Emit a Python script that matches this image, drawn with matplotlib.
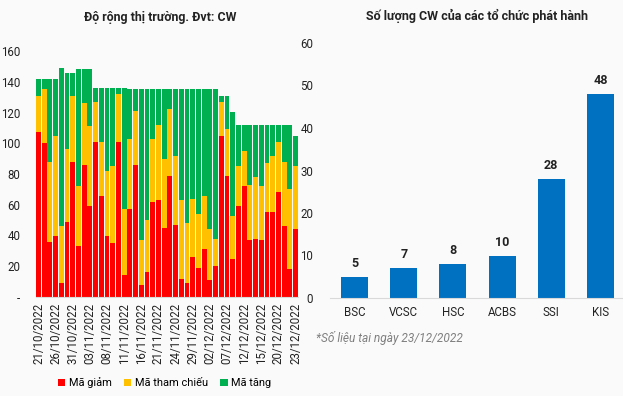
import matplotlib.pyplot as plt
import numpy as np

plt.rcParams['font.family'] = ['Roboto', 'DejaVu Sans']

# ---------- data ------------------------------------------------------------

dates = [
    "21/10/2022", "24/10/2022", "25/10/2022", "26/10/2022", "27/10/2022",
    "28/10/2022", "31/10/2022", "01/11/2022", "02/11/2022", "03/11/2022",
    "04/11/2022", "07/11/2022", "08/11/2022", "09/11/2022", "10/11/2022",
    "11/11/2022", "14/11/2022", "15/11/2022", "16/11/2022", "17/11/2022",
    "18/11/2022", "21/11/2022", "22/11/2022", "23/11/2022", "24/11/2022",
    "25/11/2022", "28/11/2022", "29/11/2022", "30/11/2022", "01/12/2022",
    "02/12/2022", "05/12/2022", "06/12/2022", "07/12/2022", "08/12/2022",
    "09/12/2022", "12/12/2022", "13/12/2022", "14/12/2022", "15/12/2022",
    "16/12/2022", "19/12/2022", "20/12/2022", "21/12/2022", "22/12/2022",
    "23/12/2022",
]

ma_giam = [107, 100, 36, 40, 9, 49, 88, 33, 86, 59, 101, 66, 40, 35, 101, 14,
           57, 86, 8, 16, 62, 63, 45, 79, 47, 12, 9, 26, 19, 31, 11, 20,
           105, 79, 25, 59, 72, 37, 38, 37, 55, 55, 68, 46, 18, 44]
ma_tham_chieu = [24, 35, 52, 65, 37, 47, 43, 39, 40, 52, 26, 35, 42, 50, 31, 43,
                 46, 35, 29, 34, 41, 49, 45, 43, 45, 51, 39, 38, 35, 35, 33, 18,
                 22, 30, 28, 26, 23, 36, 40, 35, 32, 37, 33, 42, 52, 41]
ma_tang = [11, 7, 54, 37, 103, 50, 15, 76, 22, 37, 9, 35, 54, 51, 4, 79,
           32, 14, 98, 85, 32, 23, 45, 13, 43, 72, 87, 71, 81, 69, 91, 97,
           4, 22, 67, 27, 17, 39, 34, 40, 25, 20, 11, 24, 42, 20]

issuers = ["BSC", "VCSC", "HSC", "ACBS", "SSI", "KIS"]
cw_counts = [5, 7, 8, 10, 28, 48]

RED, YELLOW, GREEN, BLUE = '#FF0000', '#FFC000', '#00B050', '#0070C0'
BG = '#FAFAFA'
TXT = '#222222'

# ---------- figure ----------------------------------------------------------

fig = plt.figure(figsize=(6.23, 3.96), dpi=100, facecolor=BG)

# left: market breadth
ax1 = fig.add_axes([35.6 / 623, 1 - 297 / 396, (298.4 - 35.6) / 623, (297 - 51) / 396])
ax1.set_facecolor(BG)
x = np.arange(len(dates))
red = np.array(ma_giam)
yel = np.array(ma_tham_chieu)
ax1.bar(x, ma_giam, width=0.85, color=RED, label="Mã giảm")
ax1.bar(x, ma_tham_chieu, width=0.85, bottom=red, color=YELLOW, label="Mã tham chiếu")
ax1.bar(x, ma_tang, width=0.85, bottom=red + yel, color=GREEN, label="Mã tăng")
ax1.set_xlim(-0.5, len(dates) - 0.5)
ax1.set_ylim(0, 160)
ax1.set_yticks(range(0, 161, 20))
ax1.set_yticklabels(["-"] + [str(v) for v in range(20, 161, 20)])
ax1.set_xticks(x[::3])
ax1.set_xticklabels(dates[::3], rotation=90)
ax1.tick_params(length=0, labelsize=8.3, colors=TXT)
ax1.tick_params(axis='y', pad=11)
ax1.tick_params(axis='x', pad=4)
for side in ['top', 'right', 'left']:
    ax1.spines[side].set_visible(False)
ax1.spines['bottom'].set_color('#D9D9D9')
fig.text(160 / 623, 1 - 18 / 396, "Độ rộng thị trường. Đvt: CW",
         ha='center', va='center', fontsize=8.9, fontweight='bold', color=TXT)
ax1.legend(loc='center', bbox_to_anchor=(0.49, (297 - 383) / 246),
           ncol=3, frameon=False, fontsize=7.9, handlelength=0.7, handleheight=0.7,
           handletextpad=0.3, columnspacing=1.1)

# right: number of CW per issuer
ax2 = fig.add_axes([330 / 623, 1 - 298 / 396, 295 / 623, (298 - 43) / 396])
ax2.set_facecolor(BG)
xi = np.arange(len(issuers))
bars = ax2.bar(xi, cw_counts, width=0.55, color=BLUE)
for b, v in zip(bars, cw_counts):
    ax2.text(b.get_x() + b.get_width() / 2, v + 1.6, str(v), ha='center', va='bottom',
             fontsize=9, fontweight='bold', color=TXT)
ax2.set_xlim(-0.5, len(issuers) - 0.5)
ax2.set_ylim(0, 60)
ax2.set_yticks(range(0, 61, 10))
ax2.set_xticks(xi)
ax2.set_xticklabels(issuers)
ax2.tick_params(length=0, labelsize=8.3, colors=TXT)
ax2.tick_params(axis='y', pad=12)
ax2.tick_params(axis='x', pad=6)
for side in ['top', 'right', 'left']:
    ax2.spines[side].set_visible(False)
ax2.spines['bottom'].set_color('#D9D9D9')
fig.text(477 / 623, 1 - 16 / 396, "Số lượng CW của các tổ chức phát hành",
         ha='center', va='center', fontsize=9, fontweight='bold', color=TXT)
fig.text(316 / 623, 1 - 338 / 396, "*Số liệu tại ngày 23/12/2022",
         ha='left', va='center', fontsize=8.6, fontstyle='italic', color='#7F7F7F')

fig.savefig("out.png", dpi=100, facecolor=BG)
